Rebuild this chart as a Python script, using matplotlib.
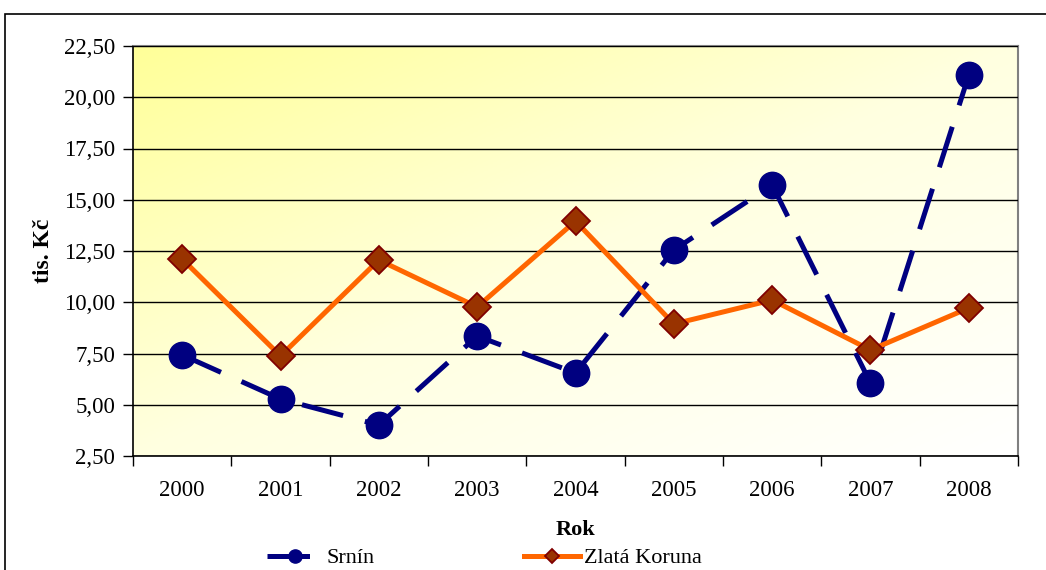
import numpy as np
import matplotlib.pyplot as plt
import matplotlib.ticker as mticker
from matplotlib.colors import LinearSegmentedColormap
from matplotlib.patches import Rectangle

years = ["2000", "2001", "2002", "2003", "2004", "2005", "2006", "2007", "2008"]
srnin = [7.43, 5.28, 4.01, 8.35, 6.55, 12.55, 15.72, 6.06, 21.09]
zlata_koruna = [12.11, 7.38, 12.06, 9.77, 13.96, 8.94, 10.11, 7.67, 9.72]
y_ticks = [2.5, 5.0, 7.5, 10.0, 12.5, 15.0, 17.5, 20.0, 22.5]

plt.rcParams['font.family'] = ['Liberation Serif', 'DejaVu Serif']


def comma_fmt(v, pos):
    return f"{v:.2f}".replace(".", ",")


def main():
    fig = plt.figure(figsize=(10.46, 5.70), dpi=100)
    ax = fig.add_axes([133 / 1046, 1 - 456 / 570, (1018 - 133) / 1046, (456 - 46) / 570])

    # outer chart frame, runs off the right and bottom edge
    fig.patches.append(Rectangle((5 / 1046, -0.1), 1.2, 1.1 - 14 / 570,
                                 transform=fig.transFigure, fill=False,
                                 edgecolor='black', linewidth=1.2, zorder=0))

    # diagonal yellow (top left) -> white (bottom right) fill of the plot area
    gx, gy = np.meshgrid(np.linspace(0, 1, 200), np.linspace(0, 1, 200))
    grad = np.clip((gx + gy) / 2.0, 0, 1)
    cmap = LinearSegmentedColormap.from_list("bg", ["#FFFF99", "#FFFFE0", "#FFFFFF"])
    ax.imshow(grad, cmap=cmap, extent=[0, 1, 0, 1], transform=ax.transAxes,
              aspect='auto', origin='upper', zorder=0)

    x = np.arange(len(years))
    ax.plot(x, srnin, color='#000080', linewidth=3.6, dashes=(8.5, 4.5),
            marker='o', markersize=19, markerfacecolor='#000080',
            markeredgecolor='#000080', label='Srnín', zorder=3)
    ax.plot(x, zlata_koruna, color='#FF6600', linewidth=3.6,
            marker='D', markersize=14, markerfacecolor='#993300',
            markeredgecolor='#800000', markeredgewidth=1.3,
            label='Zlatá Koruna', zorder=4)

    ax.set_xlim(-0.5, len(years) - 0.5)
    ax.set_ylim(2.5, 22.5)
    ax.set_yticks(y_ticks)
    ax.yaxis.set_major_formatter(mticker.FuncFormatter(comma_fmt))
    ax.yaxis.grid(True, color='black', linewidth=1.0)
    ax.set_axisbelow(False)
    for line in ax.get_ygridlines():
        line.set_zorder(1)

    # ticks at category borders, labels at category centres
    ax.set_xticks(np.arange(-0.5, len(years), 1.0))
    ax.set_xticklabels([])
    ax.set_xticks(x, minor=True)
    ax.set_xticklabels(years, minor=True)
    ax.tick_params(axis='x', which='major', direction='out', length=7, width=1)
    ax.tick_params(axis='x', which='minor', length=0, pad=17, labelsize=16.5)
    ax.tick_params(axis='y', direction='out', length=7, width=1, pad=6, labelsize=16.5)

    for side in ['top', 'right']:
        ax.spines[side].set_color('#808080')
        ax.spines[side].set_linewidth(1.5)
    for side in ['left', 'bottom']:
        ax.spines[side].set_color('black')
        ax.spines[side].set_linewidth(1.2)

    ax.set_ylabel('tis. Kč', fontsize=17, fontweight='bold', labelpad=7)
    ax.set_xlabel('Rok', fontsize=16, fontweight='bold', labelpad=14)

    fig.legend(loc='center left', bbox_to_anchor=(267 / 1046, 1 - 558 / 570),
               ncol=2, frameon=False, fontsize=16, handlelength=2.5,
               handletextpad=0.2, columnspacing=6.7, borderpad=0,
               borderaxespad=0, markerscale=0.5)

    fig.savefig('out.png', dpi=100)


if __name__ == "__main__":
    main()
